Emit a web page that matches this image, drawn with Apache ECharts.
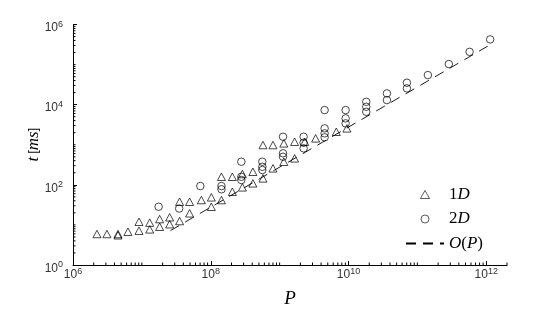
<!DOCTYPE html>
<html><head><meta charset="utf-8">
<script src="https://cdn.jsdelivr.net/npm/echarts@6/dist/echarts.min.js"></script>
<style>html,body{margin:0;padding:0;background:#fff}#c{width:560px;height:315px}</style>
</head><body><div id="c"></div>
<script>
// ---- data ----
const oneD_P = [2.23e6,3.11e6,4.50e6,4.50e6,6.28e6,9.08e6,9.08e6,1.30e7,1.30e7,1.81e7,1.81e7,2.53e7,2.53e7,3.53e7,3.53e7,4.93e7,4.93e7,7.31e7,1.02e8,1.02e8,1.43e8,1.43e8,2.06e8,2.06e8,2.88e8,2.88e8,4.09e8,4.09e8,5.73e8,5.73e8,8.00e8,8.00e8,1.15e9,1.15e9,1.65e9,1.65e9,2.31e9,3.33e9,6.65e9,9.48e9];
const oneD_T = [5.93,5.93,5.93,5.51,6.76,7.16,12.0,7.76,11.4,9.02,14.0,10.4,15.5,12.5,37.9,19.5,37.9,41.8,48.8,28.4,159,41.8,159,67.3,186,86.7,212,109,984,145,984,258,1084,377,1189,458,1189,1445,2109,2564];
const twoD_P = [1.75e7,3.48e7,7.06e7,1.43e8,1.43e8,2.78e8,2.78e8,2.78e8,5.61e8,5.61e8,5.61e8,1.12e9,1.12e9,1.12e9,2.23e9,2.23e9,2.23e9,4.50e9,4.50e9,4.50e9,4.50e9,9.08e9,9.08e9,9.08e9,1.81e10,1.81e10,1.81e10,3.61e10,3.61e10,7.05e10,7.05e10,1.42e11,2.86e11,5.73e11,1.14e12];
const twoD_T = [28.4,25.6,93.3,93.3,77.3,377,159,132,377,282,234,1585,611,502,1585,1122,813,7328,2564,1923,1531,7328,4550,3420,11800,8870,6650,19100,13000,35200,25500,54700,103000,208000,425000];
const fitP = [2.6e7, 1.2e12];
const fitT = [7.2, 3.3e5];
const xTicks = [1e6, 1e8, 1e10, 1e12];
const yTicks = [1, 1e2, 1e4, 1e6];
const xRange = [1e6, 2e12];
const yRange = [1, 1e6];
const seriesNames = ['1D', '2D', 'O(P)'];

// ---- build ----
const zip = (a, b) => a.map((v, i) => [v, b[i]]);
function minorVals(lo, hi, majors) {
  const out = [];
  for (let e = Math.floor(Math.log10(lo)); e <= Math.ceil(Math.log10(hi)); e++) {
    for (let k = 1; k < 10; k++) {
      const v = k * Math.pow(10, e);
      if (v >= lo * 0.9999 && v <= hi * 1.0001 && !majors.some(m => Math.abs(m - v) / m < 1e-9)) out.push(v);
    }
  }
  return out;
}
const minorData = minorVals(xRange[0], xRange[1], xTicks).map(v => [v, yRange[0], 0])
  .concat(minorVals(yRange[0], yRange[1], yTicks).map(v => [xRange[0], v, 1]));

const supFmt = v => {
  const e = Math.log10(v);
  if (Math.abs(e - Math.round(e)) > 1e-6) return '';
  return '{b|10}{s|' + Math.round(e) + '}';
};
const sans = 'Liberation Sans, Arial, sans-serif';
const labelRich = {
  b: { fontSize: 12, lineHeight: 16, color: '#333', fontFamily: sans },
  s: { fontSize: 9, lineHeight: 9, color: '#333', verticalAlign: 'top', fontFamily: sans }
};
const serif = 'Liberation Serif, DejaVu Serif, serif';
const mathRich = {
  r: { fontFamily: serif, fontSize: 17, lineHeight: 18, color: '#000' },
  i: { fontFamily: serif, fontSize: 17, lineHeight: 18, fontStyle: 'italic', color: '#000' }
};
const openMarker = { color: 'rgba(0,0,0,0)', borderColor: '#000', borderWidth: 0.8 };

const axisCommon = {
  type: 'log', logBase: 10, interval: 2,
  axisLine: { show: true, onZero: false, lineStyle: { color: '#000', width: 1 } },
  splitLine: { show: false },
  minorTick: { show: false },
  nameMoveOverlap: false
};

const chart = echarts.init(document.getElementById('c'), null, { renderer: 'canvas' });
chart.setOption({
  animation: false,
  backgroundColor: '#fff',
  grid: { left: 73, right: 53, top: 24.5, bottom: 50, containLabel: false },
  xAxis: Object.assign({}, axisCommon, {
    min: xRange[0], max: xRange[1],
    axisTick: { show: true, inside: true, length: 4, customValues: xTicks, lineStyle: { color: '#000' } },
    axisLabel: { customValues: xTicks, formatter: supFmt, rich: labelRich, margin: 2 },
    name: '{i|P}', nameLocation: 'middle', nameGap: 24,
    nameTextStyle: { rich: { i: { fontFamily: serif, fontSize: 19, fontStyle: 'italic', color: '#000' } } }
  }),
  yAxis: Object.assign({}, axisCommon, {
    min: yRange[0], max: yRange[1],
    axisTick: { show: true, inside: true, length: 4, customValues: yTicks, lineStyle: { color: '#000' } },
    axisLabel: { customValues: yTicks, formatter: supFmt, rich: labelRich, margin: 10, padding: [7, 0, 0, 0] },
    name: '{i|t} [{i|ms}]', nameLocation: 'middle', nameGap: 31, nameRotate: 90,
    nameTextStyle: { rich: {
      r: { fontFamily: serif, fontSize: 17, color: '#000' },
      i: { fontFamily: serif, fontSize: 17, fontStyle: 'italic', color: '#000' } } }
  }),
  legend: {
    orient: 'vertical', left: 400, top: 181, itemWidth: 38, itemHeight: 8, itemGap: 7.5,
    symbolKeepAspect: true,
    data: [
      { name: seriesNames[0], icon: 'path://M4,0L8,7L0,7Z', itemStyle: openMarker },
      { name: seriesNames[1], icon: 'circle', itemStyle: openMarker },
      { name: seriesNames[2], itemStyle: { opacity: 0 } }
    ],
    selectedMode: false,
    formatter: n => n === '1D' ? '{r|1}{i|D}' : n === '2D' ? '{r|2}{i|D}' : '{i|O}{r|(}{i|P}{r|)}',
    textStyle: { rich: mathRich, padding: [0, 0, 0, 0] }
  },
  series: [
    { name: seriesNames[0], type: 'scatter', data: zip(oneD_P, oneD_T), symbol: 'triangle', symbolSize: [8, 7.5],
      itemStyle: { color: 'rgba(0,0,0,0)', borderColor: '#000', borderWidth: 0.9 }, emphasis: { disabled: true }, z: 3 },
    { name: seriesNames[1], type: 'scatter', data: zip(twoD_P, twoD_T), symbol: 'circle', symbolSize: 7.5,
      itemStyle: { color: 'rgba(0,0,0,0)', borderColor: '#000', borderWidth: 0.9 }, emphasis: { disabled: true }, z: 3 },
    { name: seriesNames[2], type: 'line', data: zip(fitP, fitT), symbol: 'none', silent: true,
      lineStyle: { color: '#000', width: 0.9, type: [10, 7] }, itemStyle: { color: '#000' }, z: 4 },
    { type: 'custom', silent: true, data: minorData, encode: { x: 0, y: 1 }, clip: false, z: 5,
      renderItem: (params, api) => {
        const p = api.coord([api.value(0), api.value(1)]);
        const isX = api.value(2) === 0;
        return { type: 'line',
          shape: isX ? { x1: p[0], y1: p[1], x2: p[0], y2: p[1] - 2.5 } : { x1: p[0], y1: p[1], x2: p[0] + 2.5, y2: p[1] },
          style: { stroke: '#000', lineWidth: 1 } };
      } }
  ]
});
</script></body></html>
